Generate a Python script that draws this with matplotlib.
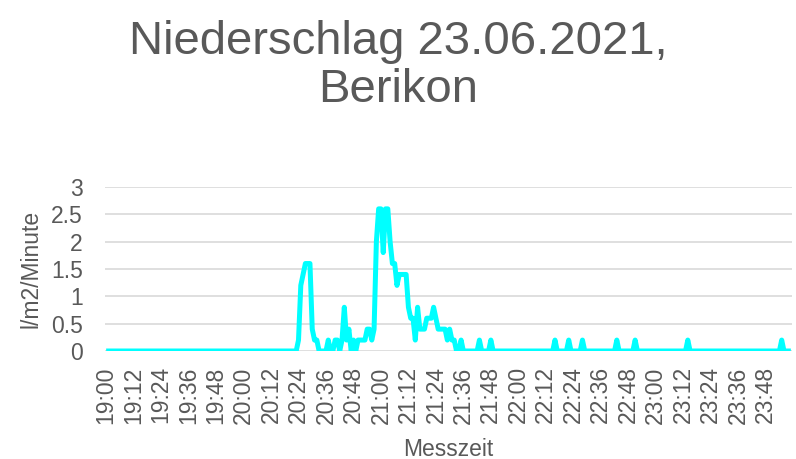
import matplotlib
matplotlib.use("Agg")

import matplotlib.pyplot as plt
import numpy as np
import pandas as pd

plt.rcParams.update({"font.family": ["Liberation Sans", "DejaVu Sans"]})

# one value per minute, 19:00 .. 23:59, 12 minutes per row
rain = [
    0, 0, 0, 0, 0, 0, 0, 0, 0, 0, 0, 0,                      # 19:00
    0, 0, 0, 0, 0, 0, 0, 0, 0, 0, 0, 0,                      # 19:12
    0, 0, 0, 0, 0, 0, 0, 0, 0, 0, 0, 0,                      # 19:24
    0, 0, 0, 0, 0, 0, 0, 0, 0, 0, 0, 0,                      # 19:36
    0, 0, 0, 0, 0, 0, 0, 0, 0, 0, 0, 0,                      # 19:48
    0, 0, 0, 0, 0, 0, 0, 0, 0, 0, 0, 0,                      # 20:00
    0, 0, 0, 0, 0, 0, 0, 0, 0, 0, 0, 0,                      # 20:12
    0.2, 1.2, 1.4, 1.6, 1.6, 1.6, 0.4, 0.2, 0.2, 0, 0, 0,    # 20:24
    0, 0.2, 0, 0, 0.2, 0.2, 0, 0.2, 0.8, 0.2, 0.4, 0,        # 20:36
    0.2, 0, 0.2, 0.2, 0.2, 0.2, 0.4, 0.4, 0.2, 0.4, 2.0, 2.6,  # 20:48
    2.6, 1.8, 2.6, 2.6, 2.0, 1.6, 1.6, 1.2, 1.4, 1.4, 1.4, 1.4,  # 21:00
    0.8, 0.6, 0.6, 0.2, 0.8, 0.4, 0.4, 0.4, 0.6, 0.6, 0.6, 0.8,  # 21:12
    0.6, 0.4, 0.4, 0.4, 0.4, 0.2, 0.4, 0.2, 0.2, 0, 0, 0.2,  # 21:24
    0, 0, 0, 0, 0, 0, 0, 0.2, 0, 0, 0, 0,                    # 21:36
    0.2, 0, 0, 0, 0, 0, 0, 0, 0, 0, 0, 0,                    # 21:48
    0, 0, 0, 0, 0, 0, 0, 0, 0, 0, 0, 0,                      # 22:00
    0, 0, 0, 0, 0.2, 0, 0, 0, 0, 0, 0.2, 0,                  # 22:12
    0, 0, 0, 0, 0.2, 0, 0, 0, 0, 0, 0, 0,                    # 22:24
    0, 0, 0, 0, 0, 0, 0, 0.2, 0, 0, 0, 0,                    # 22:36
    0, 0, 0, 0.2, 0, 0, 0, 0, 0, 0, 0, 0,                    # 22:48
    0, 0, 0, 0, 0, 0, 0, 0, 0, 0, 0, 0,                      # 23:00
    0, 0, 0.2, 0, 0, 0, 0, 0, 0, 0, 0, 0,                    # 23:12
    0, 0, 0, 0, 0, 0, 0, 0, 0, 0, 0, 0,                      # 23:24
    0, 0, 0, 0, 0, 0, 0, 0, 0, 0, 0, 0,                      # 23:36
    0, 0, 0, 0, 0, 0, 0, 0.2, 0, 0, 0, 0,                    # 23:48
]
times = pd.date_range("2021-06-23 19:00", periods=len(rain), freq="min")
time_labels = times.strftime("%H:%M")
label_step = 12
y_ticks = [0, 0.5, 1, 1.5, 2, 2.5, 3]

GREY = "#595959"

fig = plt.figure(figsize=(7.96, 4.59), dpi=100)
ax = fig.add_axes([105 / 796, 1 - 351 / 459, (792 - 105) / 796, (351 - 187) / 459])

x = np.arange(len(rain))
ax.plot(x, rain, color="#00FFFF", lw=3.6, solid_joinstyle="round", solid_capstyle="butt", zorder=3)

ax.set_xlim(-0.5, len(rain) - 0.5)
ax.set_ylim(0, 3)
ax.set_yticks(y_ticks)
ax.set_yticklabels([f"{v:g}" for v in y_ticks])
ax.set_xticks(x[::label_step])
ax.set_xticklabels(time_labels[::label_step], rotation=90)

ax.grid(axis="y", color="#D9D9D9", lw=1.2)
ax.set_axisbelow(True)
for s in ax.spines.values():
    s.set_visible(False)
ax.tick_params(axis="both", length=0, labelsize=16.5, colors=GREY)
ax.tick_params(axis="y", pad=16)
ax.tick_params(axis="x", pad=11)

ax.set_xlabel("Messzeit", fontsize=16.5, color=GREY, labelpad=10)
ax.set_ylabel("l/m2/Minute", fontsize=16.5, color=GREY, labelpad=6)

fig.text(0.5, 1 - 42 / 459, "Niederschlag 23.06.2021,", ha="center", va="center",
         fontsize=34, color=GREY)
fig.text(0.5, 1 - 90 / 459, "Berikon", ha="center", va="center", fontsize=34, color=GREY)

fig.savefig("out.png", dpi=100)
